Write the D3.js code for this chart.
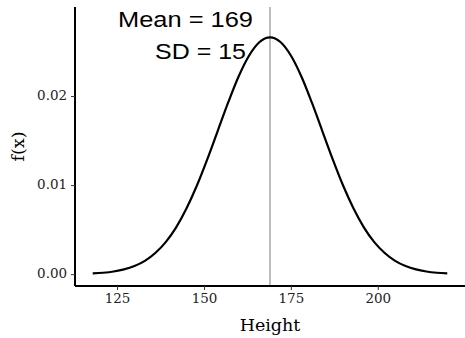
<!DOCTYPE html>
<html>
<head>
<meta charset="utf-8">
<script src="https://cdn.jsdelivr.net/npm/d3@7"></script>
<style>
  body { margin: 0; background: #fff; }
  svg { display: block; }
  .tick text { font-family: "DejaVu Serif", serif; font-size: 12px; fill: #222; }
  .axis-title { font-family: "DejaVu Serif", serif; font-size: 17.5px; fill: #000; }
  .note { font-family: "Liberation Sans", Arial, sans-serif; font-size: 22px; fill: #000; }
</style>
</head>
<body>
<div id="chart"></div>
<script>
// density of heights
const heights = [118, 121, 124, 127, 130, 133, 136, 139, 142, 145, 148, 151, 154, 157, 160, 163, 166, 169,
  172, 175, 178, 181, 184, 187, 190, 193, 196, 199, 202, 205, 208, 211, 214, 217, 220];
const density = [0.00008, 0.00016, 0.00030, 0.00053, 0.00091, 0.00149, 0.00237, 0.00360, 0.00526, 0.00740,
  0.00998, 0.01295, 0.01613, 0.01931, 0.02222, 0.02455, 0.02607, 0.02660,
  0.02607, 0.02455, 0.02222, 0.01931, 0.01613, 0.01295, 0.00998, 0.00740, 0.00526, 0.00360,
  0.00237, 0.00149, 0.00091, 0.00053, 0.00030, 0.00016, 0.00008];
const mean = 169;
const sd = 15;
const xTicks = [125, 150, 175, 200];
const yTicks = [0, 0.01, 0.02];

const width = 465;
const height = 338;
const margin = { top: 7, right: 0, bottom: 52, left: 75 };
const stretch = 1.12; // the reference text is a bit wider than the fonts here

const svg = d3.select('#chart').append('svg')
  .attr('width', width)
  .attr('height', height);

const x = d3.scaleLinear()
  .domain([112.9, 225.1])
  .range([margin.left, width - margin.right]);

const y = d3.scaleLinear()
  .domain([-0.00133, 0.0300])
  .range([height - margin.bottom, margin.top]);

function widen(sel, factor) {
  sel.each(function () {
    const w = this.getComputedTextLength();
    d3.select(this).attr('textLength', w * factor).attr('lengthAdjust', 'spacingAndGlyphs');
  });
}

// mean line
svg.append('line')
  .attr('x1', x(mean)).attr('x2', x(mean))
  .attr('y1', y(0.0300)).attr('y2', y(-0.00133))
  .attr('stroke', '#bdbdbd')
  .attr('stroke-width', 2);

const points = heights.map((h, i) => [h, density[i]]);
const line = d3.line()
  .x((d) => x(d[0]))
  .y((d) => y(d[1]))
  .curve(d3.curveMonotoneX);

svg.append('path')
  .datum(points)
  .attr('d', line)
  .attr('fill', 'none')
  .attr('stroke', '#000')
  .attr('stroke-width', 2.2);

const xAxis = svg.append('g')
  .attr('transform', `translate(0,${height - margin.bottom})`)
  .call(d3.axisBottom(x).tickValues(xTicks).tickSize(4).tickPadding(4));

const yAxis = svg.append('g')
  .attr('transform', `translate(${margin.left},0)`)
  .call(d3.axisLeft(y).tickValues(yTicks).tickFormat(d3.format('.2f')).tickSize(4).tickPadding(4));

[xAxis, yAxis].forEach((g) => {
  g.select('.domain').attr('stroke', '#000').attr('stroke-width', 2)
    .attr('d', g === xAxis
      ? `M${margin.left},0H${width}`
      : `M0,${margin.top}V${height - margin.bottom}`);
  g.selectAll('.tick line').attr('stroke', '#333').attr('stroke-width', 1);
  widen(g.selectAll('.tick text'), stretch);
});

svg.append('text')
  .attr('class', 'axis-title')
  .attr('x', (margin.left + width) / 2)
  .attr('y', 331)
  .attr('text-anchor', 'middle')
  .text('Height');

svg.append('text')
  .attr('class', 'axis-title')
  .attr('transform', `translate(24,${(margin.top + height - margin.bottom) / 2}) rotate(-90)`)
  .attr('text-anchor', 'middle')
  .text('f(x)');

svg.append('text')
  .attr('class', 'note')
  .attr('x', 253)
  .attr('y', 27)
  .attr('text-anchor', 'end')
  .attr('textLength', 135)
  .attr('lengthAdjust', 'spacingAndGlyphs')
  .text(`Mean = ${mean}`);

svg.append('text')
  .attr('class', 'note')
  .attr('x', 246)
  .attr('y', 59)
  .attr('text-anchor', 'end')
  .attr('textLength', 91)
  .attr('lengthAdjust', 'spacingAndGlyphs')
  .text(`SD = ${sd}`);
</script>
</body>
</html>
